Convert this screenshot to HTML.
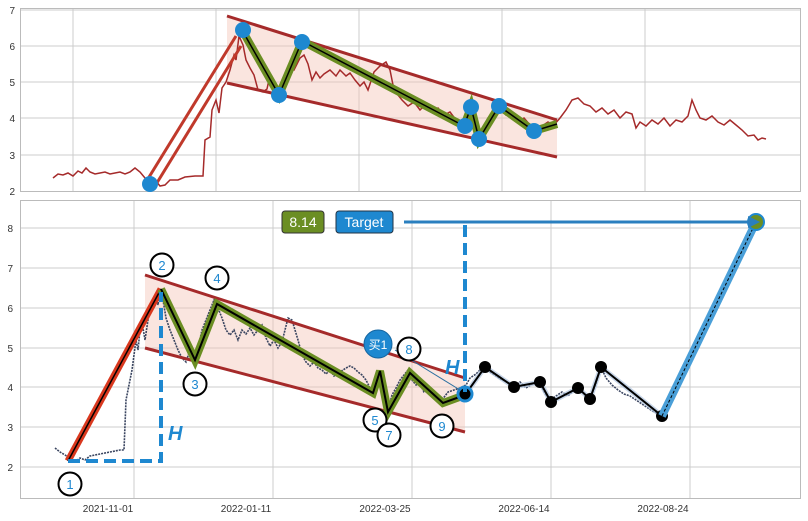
<!DOCTYPE html>
<html><head><meta charset="utf-8"><style>
body{margin:0;background:#fff}
svg{display:block;font-family:"Liberation Sans","Noto Sans CJK SC",sans-serif}
</style></head><body>
<svg width="808" height="521" viewBox="0 0 808 521">
<rect width="808" height="521" fill="#fff"/>
<!-- top panel -->
<g stroke="#ccc" stroke-width="1">
<line x1="20" x2="800" y1="10" y2="10"/><line x1="20" x2="800" y1="46" y2="46"/><line x1="20" x2="800" y1="82" y2="82"/><line x1="20" x2="800" y1="118" y2="118"/><line x1="20" x2="800" y1="155" y2="155"/>
<line x1="73" x2="73" y1="8" y2="191"/><line x1="216" x2="216" y1="8" y2="191"/><line x1="359" x2="359" y1="8" y2="191"/><line x1="502" x2="502" y1="8" y2="191"/><line x1="645" x2="645" y1="8" y2="191"/>
</g>
<rect x="20.5" y="8.5" width="780" height="183" fill="none" stroke="#bbb"/>
<g font-size="10" fill="#333" text-anchor="end">
<text x="15" y="14">7</text><text x="15" y="50">6</text><text x="15" y="86">5</text><text x="15" y="122">4</text><text x="15" y="159">3</text><text x="15" y="195">2</text></g>
<polygon points="227,16 557,120 557,157 227,83" fill="#f4c6b8" opacity="0.45"/>
<polyline fill="none" stroke="#a52a2a" stroke-width="1.5" points="53,178 58,174 63,175 68,173 73,176 78,171 82,173 86,168 90,172 95,174 100,173 105,172 110,174 115,173 120,172 125,174 130,172 135,168 140,172 145,178 150,184 155,180 160,186 165,185 170,180 178,180 185,177 195,176 203,176 205,140 210,137 212,110 216,100 219,113 222,88 226,82 230,70 234,55 236,60 239,36 243,45 246,60 250,68 254,75 258,90 263,92 267,89 270,75 274,95 278,90 282,96 285,77 290,68 294,70 300,58 304,55 308,64 312,80 316,72 320,78 324,74 330,70 336,76 340,70 346,76 350,73 355,80 360,86 364,82 368,90 374,72 380,66 386,62 390,70 394,90 398,95 402,100 408,106 414,102 420,110 426,104 432,112 438,108 444,115 450,112 456,120 462,128 466,124 470,112 474,116 478,140 483,128 488,118 494,112 500,106 506,115 512,112 518,122 524,118 530,125 536,130 542,126 548,122 554,125 560,118 566,110 572,100 578,98 584,104 590,106 596,112 602,108 608,114 614,110 620,118 626,112 632,114 636,128 640,122 646,126 652,120 658,124 664,118 670,126 676,120 682,122 688,116 692,100 696,110 700,118 706,120 712,116 718,122 724,125 730,120 736,125 742,130 748,136 754,135 758,140 762,138 766,139"/>
<line x1="227" y1="16" x2="557" y2="120" stroke="#a52a2a" stroke-width="3"/>
<line x1="227" y1="83" x2="557" y2="157" stroke="#a52a2a" stroke-width="3"/>
<line x1="146" y1="182" x2="236" y2="36" stroke="#c0392b" stroke-width="3"/>
<line x1="155" y1="186" x2="241" y2="46" stroke="#c0392b" stroke-width="3"/>
<polyline fill="none" stroke="#6b8e23" stroke-width="8" points="242,30 279,95 302,41 464,126 471,107 479,139 499,106 534,131 557,124"/>
<polyline fill="none" stroke="#000" stroke-width="1.5" points="242,30 279,95 302,41 464,126 471,107 479,139 499,106 534,131 557,124"/>
<g fill="#1e88d0"><circle cx="150" cy="184" r="8"/><circle cx="243" cy="30" r="8"/><circle cx="279" cy="95" r="8"/><circle cx="302" cy="42" r="8"/><circle cx="465" cy="126" r="8"/><circle cx="471" cy="107" r="8"/><circle cx="479" cy="139" r="8"/><circle cx="499" cy="106" r="8"/><circle cx="534" cy="131" r="8"/></g>

<!-- bottom panel -->
<g stroke="#ccc" stroke-width="1">
<line x1="20" x2="800" y1="228" y2="228"/><line x1="20" x2="800" y1="268" y2="268"/><line x1="20" x2="800" y1="308" y2="308"/><line x1="20" x2="800" y1="348" y2="348"/><line x1="20" x2="800" y1="387" y2="387"/><line x1="20" x2="800" y1="427" y2="427"/><line x1="20" x2="800" y1="467" y2="467"/>
<line x1="134" x2="134" y1="200" y2="498"/><line x1="273" x2="273" y1="200" y2="498"/><line x1="412" x2="412" y1="200" y2="498"/><line x1="551" x2="551" y1="200" y2="498"/><line x1="690" x2="690" y1="200" y2="498"/>
</g>
<rect x="20.5" y="200.5" width="780" height="298" fill="none" stroke="#bbb"/>
<g font-size="10" fill="#333" text-anchor="end">
<text x="13" y="232">8</text><text x="13" y="272">7</text><text x="13" y="312">6</text><text x="13" y="352">5</text><text x="13" y="391">4</text><text x="13" y="431">3</text><text x="13" y="471">2</text></g>
<g font-size="10" fill="#333" text-anchor="middle">
<text x="108" y="512">2021-11-01</text><text x="246" y="512">2022-01-11</text><text x="385" y="512">2022-03-25</text><text x="524" y="512">2022-06-14</text><text x="663" y="512">2022-08-24</text></g>
<polygon points="145,275 465,378 465,432 145,348" fill="#f4c6b8" opacity="0.45"/>
<polyline fill="none" stroke="#3a4560" stroke-width="1.6" stroke-dasharray="2,1" points="55,448 60,452 65,455 70,458 75,462 80,458 85,460 90,456 95,455 100,454 105,453 110,452 115,451 120,450 124,450 126,400 128,390 130,380 132,370 134,355 136,340 138,350 140,330 142,322 145,340 148,320 150,310 153,300 156,295 158,305 160,290 163,300 166,318 170,330 174,340 178,350 182,358 186,362 190,350 194,356 198,348 202,330 206,320 210,310 214,300 218,308 222,318 226,330 230,335 234,330 238,340 242,330 246,334 250,328 254,335 258,330 262,325 266,338 270,346 274,340 278,348 282,342 285,330 288,318 292,320 295,330 298,340 302,355 306,362 310,366 314,362 318,368 322,370 326,374 330,370 334,376 340,372 346,368 350,366 354,368 358,372 362,375 366,380 372,392 376,380 380,375 384,394 388,410 392,395 396,388 400,380 404,375 408,370 412,380 416,385 420,384 424,392 430,390 436,395 442,400 448,392 454,390 460,388 466,385 470,378 476,374 480,370 485,367 490,372 496,376 502,380 508,382 514,387 520,382 526,388 532,384 538,382 542,388 546,395 551,400 556,396 562,392 568,396 574,390 578,388 584,394 590,399 596,384 601,367 606,378 612,385 618,390 624,394 630,396 636,400 642,404 648,408 654,412 660,414"/>
<line x1="145" y1="275" x2="465" y2="378" stroke="#a52a2a" stroke-width="3"/>
<line x1="145" y1="348" x2="465" y2="432" stroke="#a52a2a" stroke-width="3"/>
<line x1="68" y1="461" x2="161" y2="289" stroke="#d9381e" stroke-width="7"/>
<line x1="68" y1="461" x2="161" y2="289" stroke="#000" stroke-width="1.5"/>
<polyline fill="none" stroke="#6b8e23" stroke-width="8" points="161,289 195,360 217,304 373,393 380,371 388,412 410,373 443,403 465,395"/>
<polyline fill="none" stroke="#000" stroke-width="2" points="161,289 195,360 217,304 373,393 380,371 388,412 410,373 443,403 465,395"/>
<polyline fill="none" stroke="#b0c4de" stroke-width="5" opacity="0.7" points="465,395 485,367 514,387 540,382 551,402 578,388 590,399 601,367 662,416"/>
<polyline fill="none" stroke="#000" stroke-width="2" points="465,395 485,367 514,387 540,382 551,402 578,388 590,399 601,367 662,416"/>
<g fill="#000"><circle cx="485" cy="367" r="6"/><circle cx="514" cy="387" r="6"/><circle cx="540" cy="382" r="6"/><circle cx="551" cy="402" r="6"/><circle cx="578" cy="388" r="6"/><circle cx="590" cy="399" r="6"/><circle cx="601" cy="367" r="6"/><circle cx="662" cy="416" r="6"/></g>
<circle cx="465" cy="394" r="7" fill="#000" stroke="#1e88d0" stroke-width="3"/>
<line x1="662" y1="416" x2="756" y2="222" stroke="#4a9fd8" stroke-width="8"/>
<line x1="662" y1="416" x2="756" y2="222" stroke="#000" stroke-width="1" stroke-dasharray="3,2"/>
<circle cx="756" cy="222" r="8" fill="#6b8e23" stroke="#1e88d0" stroke-width="2"/>
<!-- H dashed -->
<polyline fill="none" stroke="#1e88d0" stroke-width="4" stroke-dasharray="12,6" points="68,461 161,461 161,292"/>
<line x1="465" y1="225" x2="465" y2="392" stroke="#1e88d0" stroke-width="4" stroke-dasharray="12,6"/>
<line x1="404" y1="222" x2="748" y2="222" stroke="#2a7fbf" stroke-width="3"/>
<polygon points="748,216 760,222 748,228" fill="#2a7fbf"/>
<text x="168" y="440" font-size="20" font-weight="bold" font-style="italic" fill="#1e88d0">H</text>
<text x="445" y="374" font-size="20" font-weight="bold" font-style="italic" fill="#1e88d0">H</text>
<line x1="395" y1="350" x2="460" y2="390" stroke="#2a6fa0" stroke-width="1"/>
<rect x="282" y="211" width="42" height="22" rx="3" fill="#6b8e23" stroke="#333"/>
<text x="303" y="227" font-size="14" fill="#fff" text-anchor="middle">8.14</text>
<rect x="336" y="211" width="57" height="22" rx="3" fill="#1e88d0" stroke="#234"/>
<text x="364" y="227" font-size="14" fill="#fff" text-anchor="middle">Target</text>
<circle cx="378" cy="344" r="14" fill="#1e88d0" stroke="#1565a0"/>
<text x="378" y="349" font-size="12" fill="#fff" text-anchor="middle">买1</text>
<g fill="#fff" stroke="#000" stroke-width="2">
<circle cx="70" cy="484" r="11.5"/><circle cx="162" cy="265" r="11.5"/><circle cx="195" cy="384" r="11.5"/><circle cx="217" cy="278" r="11.5"/><circle cx="375" cy="420" r="11.5"/><circle cx="389" cy="435" r="11.5"/><circle cx="409" cy="349" r="11.5"/><circle cx="442" cy="426" r="11.5"/></g>
<g font-size="13" fill="#1e88d0" text-anchor="middle">
<text x="70" y="489">1</text><text x="162" y="270">2</text><text x="195" y="389">3</text><text x="217" y="283">4</text><text x="375" y="425">5</text><text x="389" y="440">7</text><text x="409" y="354">8</text><text x="442" y="431">9</text></g>
</svg>
</body></html>
